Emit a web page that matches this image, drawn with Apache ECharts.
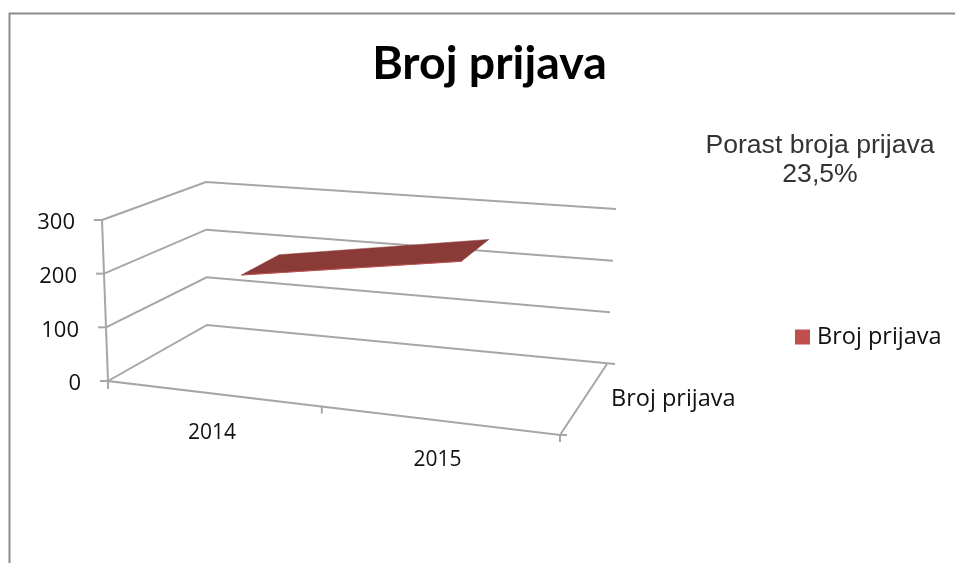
<!DOCTYPE html>
<html>
<head>
<meta charset="utf-8">
<style>html,body{margin:0;padding:0;background:#fff}#c{width:955px;height:563px}</style>
<script src="https://cdn.jsdelivr.net/npm/echarts@6/dist/echarts.min.js"></script>
</head>
<body>
<div id="c"></div>
<script>
// ---- data ----
var categories = ['2014', '2015'];
var seriesName = 'Broj prijava';
var values = [186, 249];
var valueTicks = [0, 100, 200, 300];
var chartTitle = 'Broj prijava';
var note = 'Porast broja prijava\n23,5%';

// ---- 3D view: corners of the box on screen (u: category, v: value, w: depth) ----
var view = {
  f0: [[108, 381], [560, 435]], f1: [[102, 220], [564, 262]],
  b0: [[207, 325], [607, 364]], b1: [[206, 182], [616, 209]],
  uPersp: 1.114, ribbon: [0.35, 0.77]
};
function mix(a, b, t) { return [a[0] + (b[0] - a[0]) * t, a[1] + (b[1] - a[1]) * t]; }
function project(u, v, w) {
  var s = u / (u + view.uPersp * (1 - u));
  var f = mix(mix(view.f0[0], view.f0[1], s), mix(view.f1[0], view.f1[1], s), v);
  var b = mix(mix(view.b0[0], view.b0[1], s), mix(view.b1[0], view.b1[1], s), v);
  return mix(f, b, w);
}
function unit(api, params, cat, val) {
  var p = api.coord([cat, val]), r = params.coordSys;
  return [(p[0] - r.x) / r.width, 1 - (p[1] - r.y) / r.height];
}
var lineStyle = { stroke: '#a6a6a6', lineWidth: 2, fill: null };
function line(pts, st) { return { type: 'polyline', shape: { points: pts }, style: st || lineStyle }; }
function label(text, x, y, align, size) {
  return { type: 'text', style: { text: text, x: x, y: y, textAlign: align, textVerticalAlign: 'middle',
    fill: '#111', font: (size || 21) + 'px "Open Sans"' } };
}

var chart = echarts.init(document.getElementById('c'));
chart.setOption({
  animation: false,
  backgroundColor: '#fff',
  title: [
    { text: chartTitle, left: 484.5, top: 35, textAlign: 'center',
      textStyle: { fontFamily: 'Lato', fontWeight: 'bold', fontSize: 46.5, color: '#000' } },
    { text: note, left: 815, top: 126, textAlign: 'center',
      textStyle: { fontFamily: 'Liberation Sans', fontWeight: 'normal', fontSize: 26.6, lineHeight: 29, color: '#333' } }
  ],
  legend: {
    data: [seriesName], left: 790, top: 320, icon: 'rect', itemWidth: 15, itemHeight: 15, itemGap: 0,
    textStyle: { fontFamily: 'Open Sans', fontSize: 23.5, color: '#111', padding: [0, 0, 0, 2] }
  },
  grid: { left: 0, right: 0, top: 0, bottom: 0 },
  xAxis: { type: 'category', data: categories, show: false },
  yAxis: { type: 'value', min: 0, max: 300, interval: 100, show: false },
  graphic: [{
    type: 'polyline', silent: true,
    shape: { points: [[9.5, 563], [9.5, 13.5], [955, 13.5]] },
    style: { stroke: '#8c8c8c', lineWidth: 2, fill: null }
  }],
  series: [
    { // value ticks: wall gridlines, tick marks and labels
      type: 'custom', name: 'walls', silent: true, z: 1,
      data: valueTicks.map(function (t) { return [0, t]; }),
      renderItem: function (params, api) {
        var t = api.value(1), v = unit(api, params, 0, t)[1];
        var a = project(0, v, 0), b = project(0, v, 1), c = project(1, v, 1);
        c[0] += t === 0 ? 8 : 0;
        return { type: 'group', children: [
          line([a, b, c]),
          line([[a[0] - 8, a[1]], a]),
          label(String(t), a[0] - 27, a[1] + 3, 'right', 22)
        ] };
      }
    },
    { // category ticks and labels along the floor
      type: 'custom', name: 'floor', silent: true, z: 1,
      data: categories.map(function (c, i) { return [i, 0]; }),
      renderItem: function (params, api) {
        var i = api.value(0), u = unit(api, params, i, 0)[0];
        var p = project(u, 0, 0);
        var n = categories.length;
        var kids = [label(categories[i], p[0], p[1] + 40, 'center')];
        var t1 = project((i + 1) / n, 0, 0);
        kids.push(line([t1, [t1[0], t1[1] + 7]]));
        if (i === 0) {
          var fl = project(0, 0, 0), fr = project(1, 0, 0), br = project(1, 0, 1);
          kids.push(line([[fl[0], fl[1] + 8], fl]));
          kids.push(line([project(0, 1, 0), fl, fr, br]));
          kids.push(line([fr, [fr[0] + 7, fr[1]]]));
          kids.push(label(seriesName, br[0] + 4, br[1] + 35, 'left', 23.5));
        }
        return { type: 'group', children: kids };
      }
    },
    { // the series ribbon
      type: 'custom', name: seriesName, z: 3, silent: true,
      itemStyle: { color: '#c0504d' },
      data: values.map(function (v, i) { return [i, v]; }),
      renderItem: function (params, api) {
        var i = api.value(0);
        if (i >= values.length - 1) return null;
        var p = unit(api, params, i, api.value(1));
        var q = unit(api, params, i + 1, api.value(1, i + 1));
        var w0 = view.ribbon[0], w1 = view.ribbon[1];
        var a = project(p[0], p[1], w0), b = project(p[0], p[1], w1);
        var c = project(q[0], q[1], w1), d = project(q[0], q[1], w0);
        return { type: 'group', children: [
          { type: 'polygon', shape: { points: [a, b, c, d] }, style: { fill: '#8a3a37', stroke: '#8a3a37', lineWidth: 0.5 } },
          line([a, d], { stroke: '#c0504d', lineWidth: 1, fill: null })
        ] };
      }
    }
  ]
});
</script>
</body>
</html>
